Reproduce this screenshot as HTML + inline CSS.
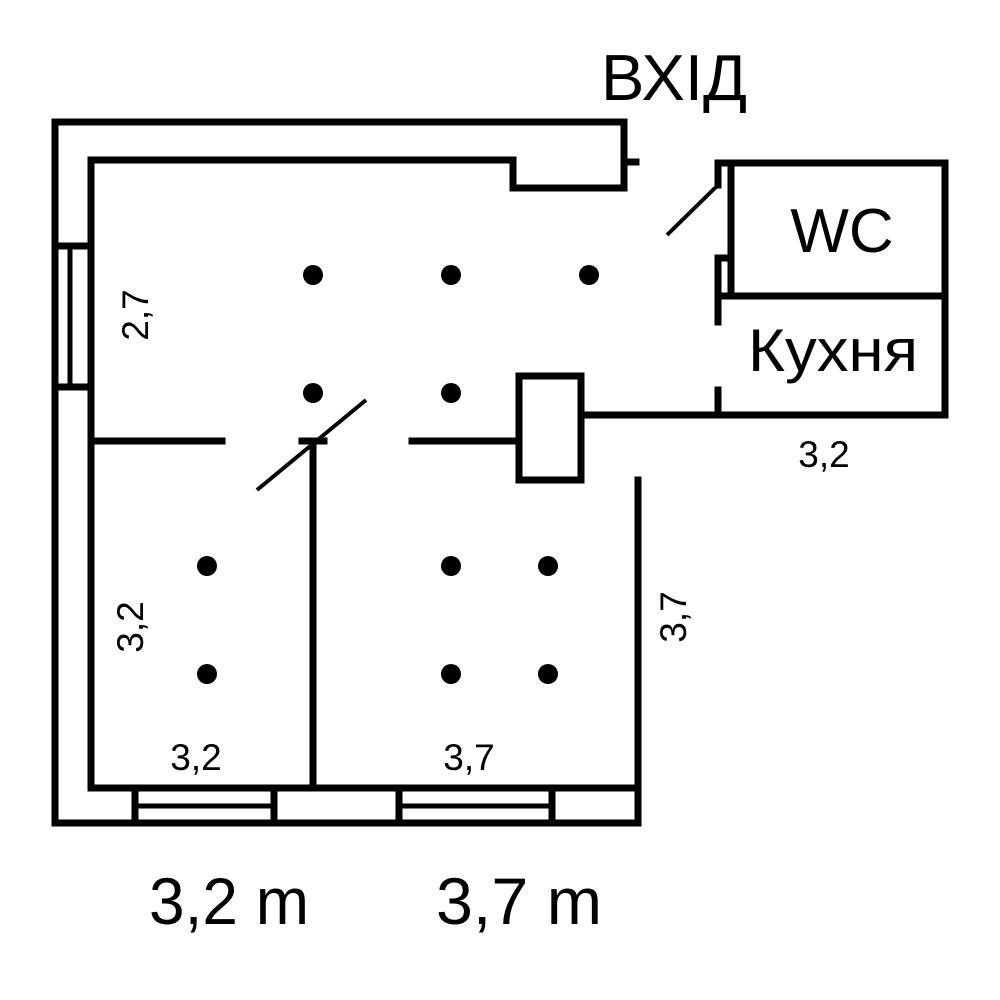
<!DOCTYPE html>
<html><head><meta charset="utf-8"><style>html,body{margin:0;padding:0;background:#fff}svg{display:block}</style></head>
<body>
<svg width="1000" height="1000" viewBox="0 0 1000 1000" xmlns="http://www.w3.org/2000/svg">
<g fill="none" stroke="#000" stroke-width="7" stroke-linecap="square">
<polyline points="55,823 55,122 624,122 624,188 513,188 513,160 91,160 91,788 638,788"/>
<line x1="55" y1="823" x2="638" y2="823"/>
<line x1="638" y1="480" x2="638" y2="823"/>
<line x1="624" y1="162" x2="636" y2="162"/>
<line x1="55" y1="246" x2="91" y2="246"/>
<line x1="55" y1="387" x2="91" y2="387"/>
<line x1="70" y1="246" x2="70" y2="387" stroke-width="5"/>
<line x1="135" y1="788" x2="135" y2="823"/>
<line x1="274" y1="788" x2="274" y2="823"/>
<line x1="137" y1="806" x2="272" y2="806" stroke-width="5"/>
<line x1="399" y1="788" x2="399" y2="823"/>
<line x1="552" y1="788" x2="552" y2="823"/>
<line x1="401" y1="806" x2="550" y2="806" stroke-width="5"/>
<line x1="91" y1="441" x2="222" y2="441"/>
<line x1="412" y1="441" x2="519" y2="441"/>
<line x1="302" y1="441" x2="324" y2="441"/>
<line x1="313" y1="441" x2="313" y2="788"/>
<rect x="519" y="376" width="62" height="104"/>
<line x1="581" y1="415" x2="945" y2="415"/>
<polyline points="718,185 718,163 945,163 945,415"/>
<line x1="731" y1="163" x2="731" y2="296"/>
<line x1="718" y1="296" x2="945" y2="296"/>
<polyline points="731,258 718,258 718,322"/>
<line x1="718" y1="390" x2="718" y2="415"/>
</g>
<g stroke="#000" stroke-width="4">
<line x1="667" y1="235" x2="718" y2="185"/>
<line x1="257" y1="490" x2="366" y2="400"/>
</g>
<g fill="#000">
<circle cx="313" cy="275" r="10"/><circle cx="451" cy="275" r="10"/><circle cx="589" cy="275" r="10"/>
<circle cx="313" cy="393" r="10"/><circle cx="451" cy="393" r="10"/>
<circle cx="207" cy="566" r="10"/><circle cx="207" cy="674" r="10"/>
<circle cx="451" cy="566" r="10"/><circle cx="548" cy="566" r="10"/>
<circle cx="451" cy="674" r="10"/><circle cx="548" cy="674" r="10"/>
</g>
<g font-family="Liberation Sans, DejaVu Sans, sans-serif" fill="#000">
<text x="674" y="100" font-size="65" text-anchor="middle">ВХІД</text>
<text x="842" y="252" font-size="62" text-anchor="middle">WC</text>
<text x="833" y="371" font-size="60" text-anchor="middle" textLength="170" lengthAdjust="spacingAndGlyphs">Кухня</text>
<text x="824" y="467" font-size="37" text-anchor="middle">3,2</text>
<text x="196" y="770" font-size="37" text-anchor="middle">3,2</text>
<text x="469" y="770" font-size="37" text-anchor="middle">3,7</text>
<text transform="translate(148,315) rotate(-90)" font-size="37" text-anchor="middle">2,7</text>
<text transform="translate(143,627) rotate(-90)" font-size="37" text-anchor="middle">3,2</text>
<text transform="translate(686,617) rotate(-90)" font-size="37" text-anchor="middle">3,7</text>
<text x="229" y="924" font-size="66" text-anchor="middle" textLength="160" lengthAdjust="spacingAndGlyphs">3,2 m</text>
<text x="519" y="924" font-size="66" text-anchor="middle" textLength="166" lengthAdjust="spacingAndGlyphs">3,7 m</text>
</g>
</svg>
</body></html>
